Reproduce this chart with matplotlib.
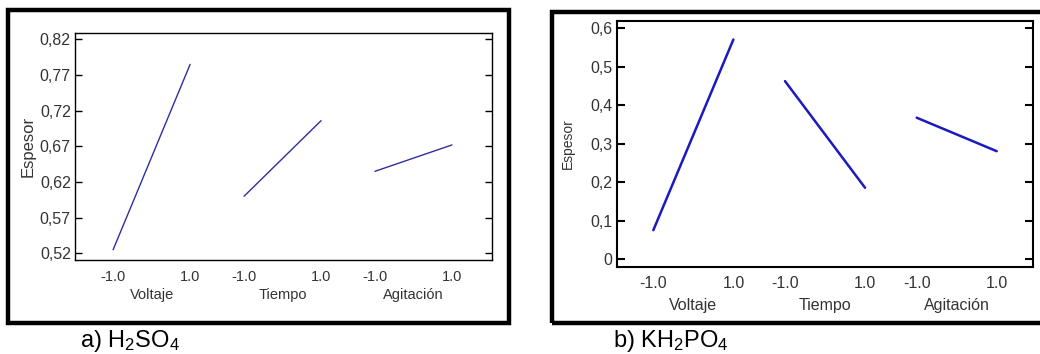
import matplotlib
matplotlib.use('Agg')
import matplotlib.pyplot as plt
from matplotlib.patches import Rectangle
import matplotlib.transforms as mtransforms

# factor names and coded levels
factors = ['Voltaje', 'Tiempo', 'Agitación']
levels = [-1.0, 1.0]

# main effects, a) H2SO4
h2so4_y = [[0.525, 0.785], [0.600, 0.706], [0.635, 0.672]]
h2so4_ticks = [0.52, 0.57, 0.62, 0.67, 0.72, 0.77, 0.82]
h2so4_ticklabels = ['0,52', '0,57', '0,62', '0,67', '0,72', '0,77', '0,82']

# main effects, b) KH2PO4
kh2po4_y = [[0.076, 0.571], [0.463, 0.186], [0.368, 0.281]]
kh2po4_ticks = [0, 0.1, 0.2, 0.3, 0.4, 0.5, 0.6]
kh2po4_ticklabels = ['0', '0,1', '0,2', '0,3', '0,4', '0,5', '0,6']

plt.rcParams['mathtext.default'] = 'regular'
font = ['Liberation Sans', 'DejaVu Sans']


def effects_panel(ax, yvals, ticks, ticklabels, period, xlim, ylim, color, lw,
                  tsize, ysize, lab_pad, name_y, spine_w, tick_len, ylab_size, ylab_x):
    centers = [i * period for i in range(len(factors))]
    xt, xl = [], []
    for c, ys in zip(centers, yvals):
        xs = [c + lv for lv in levels]
        ax.plot(xs, ys, color=color, lw=lw, solid_capstyle='round')
        xt += xs
        xl += ['%.1f' % lv for lv in levels]
    ax.set_xlim(xlim)
    ax.set_ylim(ylim)
    ax.set_xticks(xt)
    ax.set_xticklabels(xl, family=font, fontsize=tsize, color='#333333')
    ax.tick_params(axis='x', length=0, pad=lab_pad)
    ax.set_yticks(ticks)
    ax.set_yticklabels(ticklabels, family=font, fontsize=ysize, color='#333333')
    ax.tick_params(axis='y', direction='in', length=tick_len, width=spine_w,
                   right=True, pad=3)
    for s in ax.spines.values():
        s.set_linewidth(spine_w)
    trans = mtransforms.blended_transform_factory(ax.transData, ax.transAxes)
    for c, name in zip(centers, factors):
        ax.text(c, name_y, name, transform=trans, ha='center', va='center',
                family=font, fontsize=tsize, color='#333333')
    ax.set_ylabel('Espesor', family=font, fontsize=ylab_size, color='#333333')
    ax.yaxis.set_label_coords(ylab_x, 0.5)


fig = plt.figure(figsize=(10.4, 3.54), dpi=100)

ax1 = fig.add_axes([0.0721, 0.2655, 0.401, 0.6413])
effects_panel(ax1, h2so4_y, h2so4_ticks, h2so4_ticklabels, 3.4, (-1.99, 8.84),
              (0.5106, 0.829), '#2e2e9e', 1.0, 10.5, 11.5, 7, -0.154, 1.0, 5, 12,
              -0.095)

ax2 = fig.add_axes([0.593, 0.2466, 0.4006, 0.695])
effects_panel(ax2, kh2po4_y, kh2po4_ticks, kh2po4_ticklabels, 3.29, (-1.915, 8.495),
              (-0.019, 0.62), '#1a1ac0', 1.8, 11.5, 11.5, 7, -0.156, 1.5, 6, 10,
              -0.100)

# outer frames
fig.patches.append(Rectangle((8 / 1040, 1 - 323 / 354), 501 / 1040, 313 / 354,
                             transform=fig.transFigure, fill=False, lw=3.2,
                             edgecolor='black'))
fig.patches.append(Rectangle((552 / 1040, 1 - 323 / 354), 500 / 1040, 311 / 354,
                             transform=fig.transFigure, fill=False, lw=3.2,
                             edgecolor='black'))

fig.text(80 / 1040, 1 - 341 / 354, r'a) H$_2$SO$_4$', family=font, fontsize=17,
         va='center', ha='left')
fig.text(613 / 1040, 1 - 341 / 354, r'b) KH$_2$PO$_4$', family=font, fontsize=17,
         va='center', ha='left')

fig.savefig('out.png', dpi=100)
